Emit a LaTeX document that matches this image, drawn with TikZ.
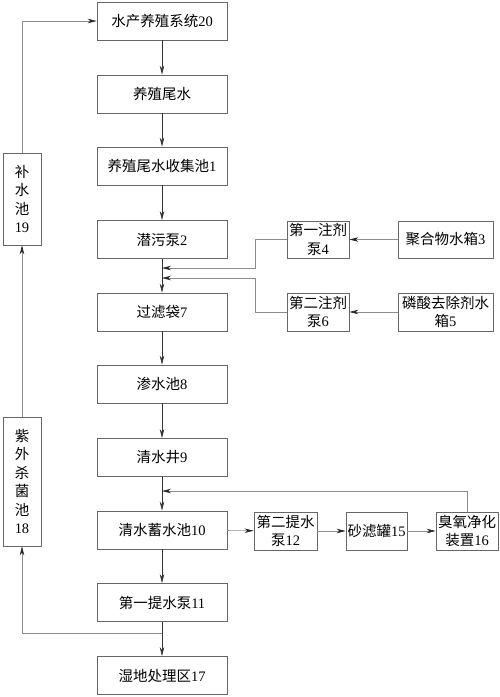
\documentclass[tikz,border=0pt]{standalone}
\usepackage{fontspec}
\setmainfont{Liberation Serif}
\newfontfamily\cjk{Noto Sans CJK SC}
\newcommand{\cn}[1]{{\cjk #1}}
\usetikzlibrary{arrows.meta}
\begin{document}
\begin{tikzpicture}[x=1pt,y=-1pt,
  box/.style={draw=black!60,line width=0.9pt,inner sep=1pt,align=center,
    font=\fontsize{14.5}{18.5}\selectfont},
  mainbox/.style={box,minimum width=130pt,minimum height=38pt},
  arr/.style={draw=black!80,line width=0.6pt,-{Stealth[length=9pt,width=4.5pt]}},
  side/.style={draw=black!45,line width=0.6pt},
  sidearr/.style={side,-{Stealth[length=9pt,width=4.5pt,black!85]}}]
\useasboundingbox (0,0) rectangle (500,697);
% main column
\node[mainbox] (b1) at (162,21) {\cn{水产养殖系统}20};
\node[mainbox] (b2) at (162,94) {\cn{养殖尾水}};
\node[mainbox] (b3) at (162,166) {\cn{养殖尾水收集池}1};
\node[mainbox] (b4) at (162,239.5) {\cn{潜污泵}2};
\node[mainbox] (b5) at (162,312) {\cn{过滤袋}7};
\node[mainbox] (b6) at (162,384) {\cn{渗水池}8};
\node[mainbox] (b7) at (162,457.5) {\cn{清水井}9};
\node[mainbox] (b8) at (162,530) {\cn{清水蓄水池}10};
\node[mainbox] (b9) at (162,602.5) {\cn{第一提水泵}11};
\node[mainbox] (b10) at (162,675.5) {\cn{湿地处理区}17};
% left column
\node[box,minimum width=38pt,minimum height=92pt] (bu) at (22,199) {\cn{补}\\\cn{水}\\\cn{池}\\19};
\node[box,minimum width=38pt,minimum height=129pt] (uv) at (22,481.5) {\cn{紫}\\\cn{外}\\\cn{杀}\\\cn{菌}\\\cn{池}\\18};
% right side
\node[box,minimum width=62pt,minimum height=37pt] (p4) at (318,239.5) {\cn{第一注剂}\\\cn{泵}4};
\node[box,minimum width=95pt,minimum height=37pt] (t3) at (445.5,239.5) {\cn{聚合物水箱}3};
\node[box,minimum width=62pt,minimum height=38pt] (p6) at (318,312) {\cn{第二注剂}\\\cn{泵}6};
\node[box,minimum width=95pt,minimum height=38pt] (t5) at (445.5,312) {\cn{磷酸去除剂水}\\\cn{箱}5};
% bottom right
\node[box,minimum width=63pt,minimum height=38pt] (p12) at (285.5,531) {\cn{第二提水}\\\cn{泵}12};
\node[box,minimum width=61pt,minimum height=38pt] (s15) at (376.5,531) {\cn{砂滤罐}15};
\node[box,minimum width=62pt,minimum height=38pt] (o16) at (467,531) {\cn{臭氧净化}\\\cn{装置}16};
% junction coordinates
\coordinate (j1) at (162,268);
\coordinate (j2) at (162,278);
\coordinate (j3) at (162,491);
\coordinate (j4) at (162,633);
% main arrows
\draw[arr] (b1) -- (b2);
\draw[arr] (b2) -- (b3);
\draw[arr] (b3) -- (b4);
\draw[arr] (b4) -- (b5);
\draw[arr] (b5) -- (b6);
\draw[arr] (b6) -- (b7);
\draw[arr] (b7) -- (b8);
\draw[arr] (b8) -- (b9);
\draw[arr] (b9) -- (b10);
% dosing
\draw[sidearr] (t3) -- (p4);
\draw[sidearr] (t5) -- (p6);
\draw[sidearr] (p4.west) -- (255,239.5) -- (255,268) -- (j1);
\draw[sidearr] (p6.west) -- (255,312) -- (255,278) -- (j2);
% second pump line
\draw[sidearr] (b8) -- (p12);
\draw[sidearr] (p12) -- (s15);
\draw[sidearr] (s15) -- (o16);
\draw[sidearr] (o16.north) -- (467,491) -- (j3);
% left loop
\draw[sidearr] (j4) -- (22,633) -- (uv.south);
\draw[sidearr] (uv) -- (bu);
\draw[sidearr] (bu.north) -- (22,21) -- (b1.west);
\end{tikzpicture}
\end{document}
